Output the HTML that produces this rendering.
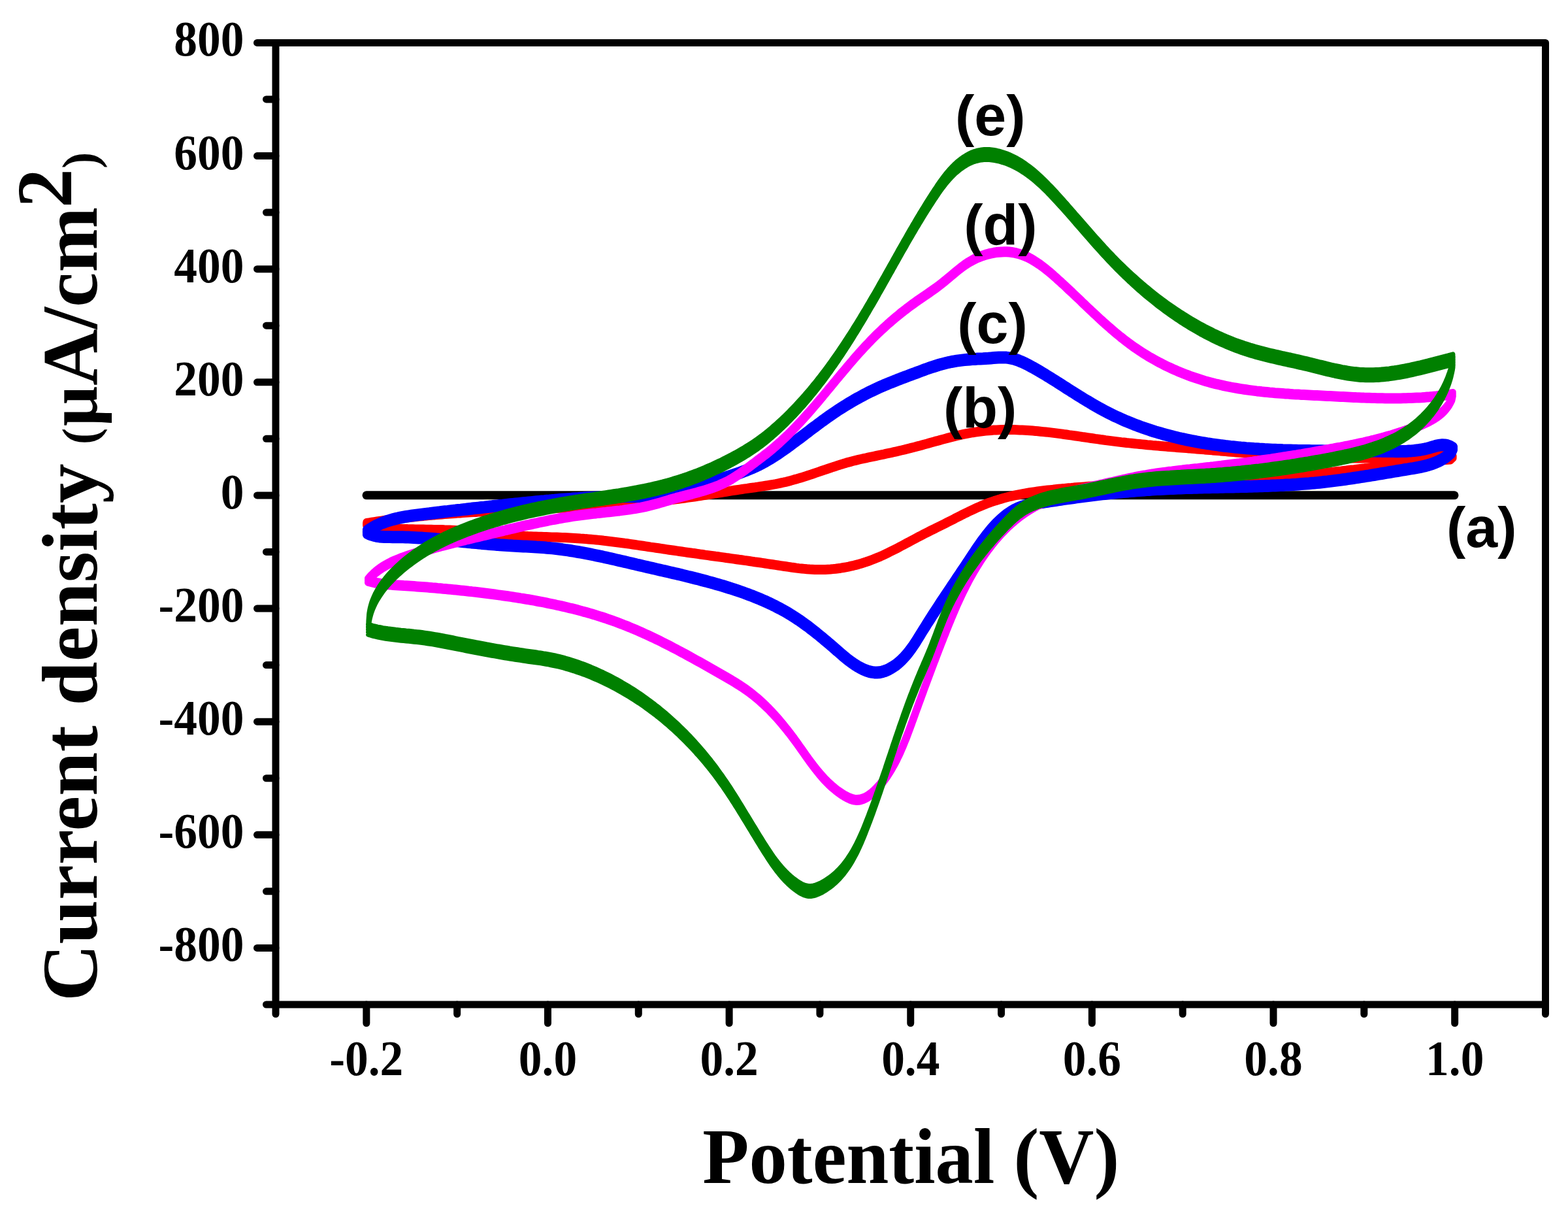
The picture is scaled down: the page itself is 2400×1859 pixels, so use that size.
<!DOCTYPE html><html><head><meta charset="utf-8"><style>html,body{margin:0;padding:0;background:#fff;}svg{display:block;}</style></head><body>
<svg width="2400" height="1859" viewBox="0 0 2400 1859">
<rect width="2400" height="1859" fill="#fff"/>
<line x1="561" y1="757.8" x2="2226" y2="757.8" stroke="#000" stroke-width="13" stroke-linecap="round"/>
<g fill="none" stroke="#ff0000" stroke-width="11" stroke-linejoin="round" stroke-linecap="round">
<path id="pff0000" d="M560.9,800.5 564.9,799.9 568.8,799.3 572.8,798.6 576.8,798.0 580.7,797.5 584.7,796.9 588.7,796.3 592.6,795.8 596.6,795.2 600.6,794.7 604.6,794.2 608.6,793.7 612.5,793.2 616.5,792.8 620.5,792.3 624.5,791.8 628.5,791.4 632.5,791.0 636.5,790.6 640.4,790.1 644.4,789.7 648.4,789.4 652.4,789.0 656.4,788.6 660.4,788.3 664.4,787.9 668.4,787.6 672.4,787.2 676.4,786.9 680.4,786.6 684.4,786.3 688.4,786.0 692.4,785.7 696.4,785.4 700.4,785.1 704.4,784.9 708.4,784.6 712.4,784.3 716.4,784.1 720.4,783.8 724.4,783.6 728.4,783.4 732.4,783.1 736.4,782.9 740.4,782.7 744.4,782.5 748.4,782.3 752.4,782.0 756.4,781.8 760.4,781.6 764.4,781.4 768.5,781.3 772.5,781.1 776.5,780.9 780.5,780.7 784.5,780.5 788.5,780.3 792.5,780.1 796.5,780.0 800.5,779.8 804.5,779.6 808.5,779.4 812.6,779.3 816.6,779.1 820.6,778.9 824.6,778.8 828.6,778.6 832.6,778.4 836.6,778.2 840.6,778.1 844.6,777.9 848.6,777.7 852.6,777.5 856.7,777.3 860.7,777.2 864.7,777.0 868.7,776.8 872.7,776.6 876.7,776.4 880.7,776.2 884.7,776.0 888.7,775.8 892.7,775.6 896.7,775.4 900.7,775.2 904.7,774.9 908.7,774.7 912.7,774.5 916.7,774.2 920.7,774.0 924.7,773.7 928.8,773.5 932.8,773.2 936.8,773.0 940.7,772.7 944.7,772.4 948.7,772.1 952.7,771.8 956.7,771.5 960.7,771.2 964.7,770.9 968.7,770.6 972.7,770.2 976.7,769.9 980.7,769.5 984.7,769.2 988.7,768.8 992.7,768.4 996.7,768.0 1000.6,767.6 1004.6,767.2 1008.6,766.8 1012.6,766.4 1016.6,765.9 1020.6,765.5 1024.5,765.0 1028.5,764.5 1032.5,764.1 1036.5,763.6 1040.4,763.0 1044.4,762.5 1048.4,762.0 1052.4,761.4 1056.3,760.9 1060.3,760.3 1064.3,759.7 1068.2,759.1 1072.2,758.5 1076.2,757.9 1080.1,757.3 1084.1,756.6 1088.1,756.0 1092.0,755.4 1096.0,754.7 1100.0,754.1 1103.9,753.5 1107.9,752.8 1111.8,752.2 1115.8,751.6 1119.8,750.9 1123.7,750.3 1127.7,749.7 1131.7,749.1 1135.7,748.5 1139.6,747.9 1143.6,747.4 1147.6,746.8 1151.5,746.2 1155.5,745.7 1159.5,745.1 1163.5,744.5 1167.4,743.9 1171.4,743.3 1175.3,742.7 1179.3,742.0 1183.2,741.3 1187.2,740.6 1191.1,739.8 1195.0,739.0 1198.9,738.2 1202.8,737.3 1206.7,736.3 1210.6,735.3 1214.4,734.2 1218.3,733.2 1222.1,732.0 1226.0,730.9 1229.8,729.7 1233.6,728.5 1237.4,727.2 1241.3,726.0 1245.1,724.7 1248.9,723.4 1252.7,722.1 1256.5,720.8 1260.3,719.5 1264.1,718.3 1267.8,717.0 1271.6,715.7 1275.4,714.4 1279.2,713.2 1283.0,711.9 1286.8,710.7 1290.7,709.6 1294.5,708.4 1298.3,707.3 1302.2,706.3 1306.0,705.3 1309.9,704.3 1313.7,703.4 1317.6,702.5 1321.5,701.6 1325.4,700.8 1329.3,699.9 1333.2,699.1 1337.1,698.3 1341.0,697.5 1344.9,696.7 1348.7,695.9 1352.6,695.1 1356.5,694.2 1360.4,693.4 1364.3,692.6 1368.2,691.7 1372.1,690.8 1376.0,689.9 1379.8,689.0 1383.7,688.1 1387.6,687.1 1391.5,686.2 1395.4,685.2 1399.2,684.2 1403.1,683.2 1407.0,682.2 1410.9,681.1 1414.7,680.0 1418.6,679.0 1422.5,677.9 1426.4,676.8 1430.3,675.7 1434.2,674.7 1438.1,673.6 1442.0,672.5 1445.9,671.5 1449.9,670.4 1453.8,669.4 1457.7,668.4 1461.7,667.4 1465.6,666.5 1469.5,665.6 1473.5,664.7 1477.4,663.9 1481.4,663.1 1485.3,662.4 1489.3,661.7 1493.3,661.1 1497.2,660.5 1501.2,660.0 1505.1,659.5 1509.1,659.1 1513.1,658.7 1517.1,658.4 1521.0,658.1 1525.0,657.9 1529.0,657.7 1532.9,657.6 1536.9,657.5 1540.9,657.5 1544.9,657.5 1548.9,657.5 1552.8,657.6 1556.8,657.7 1560.8,657.9 1564.8,658.1 1568.8,658.3 1572.8,658.5 1576.7,658.8 1580.7,659.1 1584.7,659.4 1588.7,659.8 1592.7,660.2 1596.7,660.6 1600.7,661.0 1604.7,661.4 1608.7,661.9 1612.7,662.4 1616.7,662.9 1620.6,663.4 1624.6,663.9 1628.6,664.5 1632.6,665.0 1636.6,665.6 1640.6,666.1 1644.6,666.7 1648.6,667.3 1652.6,667.9 1656.6,668.5 1660.6,669.0 1664.6,669.6 1668.6,670.2 1672.5,670.8 1676.5,671.4 1680.5,671.9 1684.5,672.5 1688.5,673.0 1692.5,673.6 1696.5,674.1 1700.5,674.6 1704.4,675.1 1708.4,675.6 1712.4,676.1 1716.4,676.6 1720.4,677.0 1724.4,677.5 1728.3,677.9 1732.3,678.3 1736.3,678.7 1740.3,679.1 1744.3,679.5 1748.2,679.9 1752.2,680.3 1756.2,680.7 1760.2,681.0 1764.2,681.4 1768.1,681.7 1772.1,682.1 1776.1,682.4 1780.1,682.7 1784.0,683.1 1788.0,683.4 1792.0,683.7 1796.0,684.0 1800.0,684.4 1804.0,684.7 1807.9,685.0 1811.9,685.3 1815.9,685.6 1819.9,685.9 1823.9,686.3 1827.9,686.6 1831.9,686.9 1835.8,687.2 1839.8,687.5 1843.8,687.9 1847.8,688.2 1851.8,688.5 1855.8,688.9 1859.8,689.2 1863.8,689.5 1867.8,689.9 1871.8,690.2 1875.8,690.6 1879.8,690.9 1883.8,691.2 1887.8,691.6 1891.8,691.9 1895.8,692.2 1899.8,692.5 1903.8,692.9 1907.8,693.2 1911.8,693.5 1915.8,693.8 1919.8,694.1 1923.8,694.4 1927.8,694.7 1931.8,695.0 1935.8,695.3 1939.9,695.6 1943.9,695.9 1947.9,696.2 1951.9,696.5 1955.9,696.7 1959.9,697.0 1963.9,697.2 1967.9,697.5 1971.9,697.7 1975.9,698.0 1979.9,698.2 1983.9,698.4 1987.9,698.6 1991.9,698.8 1995.9,699.0 1999.9,699.2 2003.9,699.4 2007.9,699.5 2011.9,699.7 2016.0,699.9 2020.0,700.0 2024.0,700.1 2028.0,700.3 2032.0,700.4 2036.0,700.5 2040.0,700.6 2044.0,700.7 2048.0,700.7 2052.0,700.8 2056.0,700.8 2060.0,700.9 2064.0,700.9 2068.0,700.9 2072.1,701.0 2076.1,701.0 2080.1,700.9 2084.1,700.9 2088.1,700.9 2092.1,700.8 2096.1,700.8 2100.1,700.7 2104.1,700.6 2108.1,700.5 2112.1,700.4 2116.2,700.3 2120.2,700.1 2124.2,700.0 2128.2,699.8 2132.2,699.7 2136.2,699.5 2140.2,699.3 2144.2,699.0 2148.3,698.8 2152.3,698.6 2156.3,698.3 2160.3,698.0 2164.3,697.8 2168.3,697.5 2172.3,697.3 2176.4,697.1 2180.4,696.9 2184.4,696.8 2188.4,696.7 2192.3,696.7 2196.3,696.7 2200.3,696.8 2204.3,697.0 2208.3,697.3 2212.2,697.6 2216.2,698.1 2220.1,698.7 2224.0,699.3 2220.1,702.9 2216.1,703.2 2212.1,703.5 2208.1,703.9 2204.1,704.2 2200.1,704.6 2196.1,704.9 2192.1,705.3 2188.1,705.7 2184.1,706.1 2180.1,706.4 2176.1,706.8 2172.1,707.2 2168.1,707.7 2164.1,708.1 2160.1,708.5 2156.1,708.9 2152.1,709.3 2148.1,709.8 2144.1,710.2 2140.2,710.7 2136.2,711.1 2132.2,711.6 2128.2,712.0 2124.2,712.5 2120.2,712.9 2116.2,713.4 2112.2,713.9 2108.2,714.3 2104.3,714.8 2100.3,715.3 2096.3,715.7 2092.3,716.2 2088.3,716.7 2084.3,717.1 2080.3,717.6 2076.3,718.1 2072.3,718.6 2068.4,719.0 2064.4,719.5 2060.4,720.0 2056.4,720.4 2052.4,720.9 2048.4,721.3 2044.4,721.8 2040.4,722.3 2036.4,722.7 2032.5,723.2 2028.5,723.6 2024.5,724.0 2020.5,724.5 2016.5,724.9 2012.5,725.3 2008.5,725.7 2004.5,726.2 2000.5,726.6 1996.5,727.0 1992.5,727.4 1988.5,727.8 1984.5,728.2 1980.6,728.5 1976.6,728.9 1972.6,729.3 1968.6,729.6 1964.6,730.0 1960.6,730.3 1956.6,730.6 1952.6,730.9 1948.6,731.3 1944.6,731.6 1940.6,731.8 1936.6,732.1 1932.6,732.4 1928.5,732.7 1924.5,732.9 1920.5,733.2 1916.5,733.4 1912.5,733.7 1908.5,733.9 1904.5,734.1 1900.5,734.3 1896.5,734.5 1892.5,734.7 1888.5,734.9 1884.5,735.1 1880.4,735.3 1876.4,735.5 1872.4,735.7 1868.4,735.8 1864.4,736.0 1860.4,736.2 1856.4,736.3 1852.4,736.5 1848.3,736.6 1844.3,736.8 1840.3,736.9 1836.3,737.1 1832.3,737.2 1828.3,737.3 1824.2,737.5 1820.2,737.6 1816.2,737.7 1812.2,737.9 1808.2,738.0 1804.2,738.2 1800.1,738.3 1796.1,738.4 1792.1,738.6 1788.1,738.7 1784.1,738.8 1780.1,739.0 1776.0,739.1 1772.0,739.2 1768.0,739.4 1764.0,739.5 1760.0,739.7 1756.0,739.8 1751.9,740.0 1747.9,740.1 1743.9,740.3 1739.9,740.4 1735.9,740.6 1731.9,740.8 1727.8,741.0 1723.8,741.1 1719.8,741.3 1715.8,741.5 1711.8,741.7 1707.8,741.9 1703.8,742.1 1699.8,742.3 1695.7,742.6 1691.7,742.8 1687.7,743.0 1683.7,743.3 1679.7,743.5 1675.7,743.8 1671.7,744.0 1667.7,744.3 1663.7,744.6 1659.6,744.9 1655.6,745.2 1651.6,745.5 1647.6,745.8 1643.6,746.1 1639.6,746.5 1635.6,746.8 1631.6,747.2 1627.6,747.6 1623.6,747.9 1619.6,748.3 1615.6,748.7 1611.6,749.2 1607.6,749.6 1603.6,750.0 1599.6,750.5 1595.6,751.0 1591.7,751.5 1587.7,752.0 1583.7,752.6 1579.7,753.2 1575.8,753.8 1571.8,754.5 1567.9,755.1 1563.9,755.9 1560.0,756.6 1556.1,757.4 1552.2,758.2 1548.3,759.1 1544.4,760.0 1540.6,761.0 1536.7,762.0 1532.9,763.1 1529.1,764.2 1525.3,765.4 1521.5,766.6 1517.7,767.9 1513.9,769.2 1510.2,770.6 1506.5,772.1 1502.8,773.6 1499.1,775.2 1495.4,776.8 1491.8,778.5 1488.1,780.2 1484.5,781.9 1480.9,783.7 1477.3,785.4 1473.6,787.2 1470.0,789.1 1466.4,790.9 1462.8,792.7 1459.3,794.6 1455.7,796.4 1452.1,798.2 1448.5,800.0 1444.9,801.8 1441.3,803.6 1437.7,805.4 1434.1,807.2 1430.5,809.0 1426.9,810.7 1423.3,812.5 1419.7,814.4 1416.1,816.2 1412.5,818.0 1409.0,819.8 1405.4,821.7 1401.8,823.6 1398.3,825.5 1394.7,827.4 1391.1,829.3 1387.6,831.2 1384.0,833.1 1380.4,835.0 1376.9,836.9 1373.3,838.8 1369.7,840.6 1366.1,842.4 1362.5,844.2 1358.9,846.0 1355.3,847.7 1351.6,849.4 1348.0,851.1 1344.3,852.7 1340.6,854.2 1336.9,855.7 1333.1,857.1 1329.4,858.5 1325.6,859.8 1321.8,861.0 1318.0,862.2 1314.2,863.3 1310.3,864.3 1306.5,865.3 1302.6,866.2 1298.7,867.1 1294.8,867.8 1290.9,868.5 1286.9,869.2 1283.0,869.7 1279.1,870.2 1275.1,870.6 1271.1,871.0 1267.1,871.2 1263.2,871.4 1259.2,871.6 1255.2,871.6 1251.2,871.6 1247.2,871.5 1243.2,871.3 1239.2,871.1 1235.2,870.8 1231.1,870.4 1227.1,870.0 1223.1,869.6 1219.1,869.1 1215.1,868.5 1211.1,868.0 1207.1,867.4 1203.1,866.8 1199.1,866.2 1195.0,865.6 1191.0,865.0 1187.0,864.4 1183.0,863.8 1179.0,863.2 1175.0,862.6 1171.0,862.0 1167.1,861.4 1163.1,860.8 1159.1,860.2 1155.1,859.7 1151.1,859.1 1147.1,858.5 1143.1,857.9 1139.1,857.4 1135.2,856.8 1131.2,856.3 1127.2,855.7 1123.2,855.1 1119.3,854.6 1115.3,854.0 1111.3,853.5 1107.3,852.9 1103.4,852.4 1099.4,851.8 1095.4,851.3 1091.4,850.7 1087.5,850.2 1083.5,849.6 1079.5,849.1 1075.6,848.5 1071.6,848.0 1067.6,847.4 1063.7,846.8 1059.7,846.3 1055.7,845.7 1051.8,845.2 1047.8,844.6 1043.8,844.0 1039.9,843.5 1035.9,842.9 1031.9,842.3 1028.0,841.8 1024.0,841.2 1020.0,840.6 1016.1,840.0 1012.1,839.4 1008.1,838.8 1004.1,838.2 1000.2,837.6 996.2,837.1 992.2,836.5 988.2,835.9 984.3,835.3 980.3,834.7 976.3,834.1 972.3,833.5 968.4,833.0 964.4,832.4 960.4,831.8 956.4,831.3 952.4,830.7 948.5,830.2 944.5,829.7 940.5,829.2 936.5,828.7 932.5,828.2 928.5,827.7 924.5,827.3 920.5,826.8 916.5,826.4 912.5,826.0 908.6,825.6 904.6,825.2 900.6,824.9 896.6,824.6 892.5,824.2 888.5,824.0 884.5,823.7 880.5,823.4 876.5,823.2 872.5,823.0 868.5,822.8 864.5,822.6 860.5,822.5 856.5,822.3 852.4,822.1 848.4,822.0 844.4,821.9 840.4,821.7 836.4,821.6 832.4,821.5 828.4,821.3 824.3,821.2 820.3,821.0 816.3,820.9 812.3,820.7 808.3,820.6 804.3,820.4 800.3,820.2 796.3,820.0 792.3,819.8 788.3,819.5 784.3,819.3 780.3,819.0 776.3,818.7 772.3,818.4 768.3,818.0 764.3,817.7 760.3,817.3 756.3,816.9 752.3,816.5 748.3,816.1 744.3,815.7 740.3,815.3 736.3,814.9 732.4,814.5 728.4,814.2 724.4,813.8 720.4,813.4 716.4,813.0 712.4,812.7 708.4,812.4 704.4,812.1 700.4,811.8 696.3,811.5 692.3,811.3 688.3,811.1 684.3,810.9 680.3,810.8 676.2,810.6 672.2,810.5 668.2,810.4 664.1,810.4 660.1,810.3 656.1,810.2 652.0,810.2 648.0,810.1 644.0,810.1 639.9,810.0 635.9,809.9 631.9,809.8 627.9,809.7 623.9,809.6 619.9,809.4 615.9,809.3 611.9,809.1 607.9,808.8 603.9,808.6 599.9,808.3 595.9,807.9 592.0,807.5 588.0,807.1 584.1,806.6 580.2,806.0 576.2,805.4 572.3,804.7 568.5,803.9 564.6,803.1 560.7,802.1"/>
<use href="#pff0000" transform="translate(0,-2.00)"/>
<use href="#pff0000" transform="translate(0,2.00)"/>
</g>
<g fill="none" stroke="#0000ff" stroke-width="14" stroke-linejoin="round" stroke-linecap="round">
<path id="p0000ff" d="M561.9,812.8 565.1,810.5 568.5,808.4 571.9,806.4 575.4,804.5 579.0,802.8 582.7,801.1 586.5,799.6 590.3,798.2 594.1,796.9 598.0,795.7 601.9,794.6 605.8,793.6 609.7,792.7 613.7,791.9 617.6,791.1 621.5,790.4 625.5,789.8 629.4,789.2 633.4,788.6 637.3,788.1 641.3,787.6 645.3,787.1 649.2,786.6 653.2,786.1 657.2,785.7 661.2,785.2 665.1,784.7 669.1,784.2 673.1,783.8 677.1,783.3 681.1,782.8 685.0,782.4 689.0,781.9 693.0,781.4 697.0,781.0 701.0,780.5 705.0,780.1 709.0,779.6 713.0,779.2 717.0,778.7 721.0,778.3 725.0,777.8 729.0,777.4 733.0,777.0 737.0,776.5 741.0,776.1 745.0,775.6 749.0,775.2 753.0,774.8 757.0,774.3 761.0,773.9 765.0,773.5 769.0,773.1 773.0,772.6 777.0,772.2 781.0,771.8 784.9,771.4 788.9,771.0 792.9,770.6 796.9,770.2 800.9,769.8 804.9,769.4 808.9,769.0 812.9,768.6 816.9,768.2 820.9,767.8 824.9,767.4 828.9,767.0 832.9,766.7 836.9,766.3 840.9,766.0 844.9,765.6 848.9,765.3 852.9,764.9 856.9,764.6 860.9,764.3 864.9,764.0 868.9,763.7 872.9,763.4 876.9,763.1 880.9,762.8 884.9,762.6 888.9,762.3 892.9,762.1 896.9,761.8 900.9,761.6 904.9,761.4 908.9,761.2 912.9,761.0 917.0,760.8 921.0,760.7 925.0,760.5 929.0,760.4 933.0,760.2 937.1,760.1 941.1,760.0 945.1,759.9 949.1,759.9 953.2,759.8 957.2,759.8 961.2,759.8 965.3,759.7 969.3,759.7 973.3,759.7 977.4,759.7 981.4,759.7 985.5,759.7 989.5,759.6 993.5,759.5 997.5,759.4 1001.5,759.3 1005.5,759.1 1009.5,758.8 1013.5,758.5 1017.5,758.2 1021.4,757.8 1025.4,757.3 1029.3,756.7 1033.2,756.0 1037.1,755.2 1041.0,754.4 1044.8,753.4 1048.7,752.4 1052.5,751.2 1056.3,749.9 1060.1,748.5 1063.8,747.1 1067.6,745.6 1071.4,744.1 1075.2,742.7 1079.0,741.3 1082.8,739.9 1086.6,738.6 1090.4,737.3 1094.3,736.0 1098.1,734.7 1102.0,733.5 1105.8,732.2 1109.7,731.0 1113.5,729.7 1117.3,728.5 1121.2,727.2 1125.0,725.9 1128.8,724.6 1132.5,723.3 1136.3,721.9 1140.0,720.5 1143.8,719.1 1147.5,717.6 1151.1,716.1 1154.8,714.4 1158.4,712.8 1161.9,711.1 1165.5,709.3 1169.0,707.4 1172.5,705.5 1175.9,703.5 1179.4,701.5 1182.8,699.4 1186.1,697.2 1189.5,695.1 1192.8,692.9 1196.1,690.6 1199.4,688.3 1202.7,686.0 1206.0,683.7 1209.2,681.3 1212.5,678.9 1215.7,676.5 1218.9,674.1 1222.2,671.7 1225.4,669.3 1228.6,666.9 1231.8,664.4 1235.0,662.0 1238.2,659.6 1241.4,657.1 1244.6,654.7 1247.9,652.3 1251.1,649.9 1254.3,647.5 1257.5,645.1 1260.8,642.8 1264.0,640.4 1267.3,638.1 1270.6,635.8 1273.9,633.5 1277.2,631.3 1280.5,629.0 1283.8,626.8 1287.2,624.6 1290.6,622.5 1294.0,620.4 1297.4,618.3 1300.8,616.2 1304.2,614.2 1307.7,612.2 1311.2,610.2 1314.7,608.3 1318.2,606.4 1321.7,604.5 1325.3,602.6 1328.8,600.8 1332.4,599.0 1336.0,597.3 1339.6,595.6 1343.3,593.9 1347.0,592.2 1350.6,590.6 1354.3,589.0 1358.0,587.5 1361.8,585.9 1365.5,584.4 1369.2,582.9 1373.0,581.4 1376.8,580.0 1380.5,578.5 1384.3,577.1 1388.1,575.7 1391.8,574.3 1395.6,572.9 1399.4,571.5 1403.1,570.1 1406.9,568.7 1410.7,567.3 1414.4,565.9 1418.2,564.5 1422.0,563.2 1425.7,561.9 1429.5,560.7 1433.3,559.5 1437.1,558.3 1440.9,557.2 1444.8,556.2 1448.6,555.2 1452.5,554.3 1456.4,553.5 1460.3,552.8 1464.3,552.1 1468.3,551.6 1472.2,551.1 1476.3,550.6 1480.3,550.2 1484.3,549.9 1488.4,549.6 1492.4,549.4 1496.5,549.1 1500.5,548.9 1504.6,548.7 1508.6,548.4 1512.7,548.2 1516.7,547.9 1520.7,547.6 1524.7,547.3 1528.7,547.1 1532.7,546.9 1536.6,546.9 1540.5,547.1 1544.4,547.6 1548.3,548.4 1552.2,549.3 1556.0,550.5 1559.8,551.9 1563.5,553.4 1567.2,555.1 1570.9,556.9 1574.5,558.8 1578.1,560.7 1581.7,562.6 1585.2,564.6 1588.7,566.6 1592.1,568.6 1595.6,570.7 1599.0,572.7 1602.3,574.8 1605.7,576.9 1609.1,579.0 1612.5,581.1 1615.8,583.2 1619.2,585.4 1622.6,587.5 1626.0,589.7 1629.3,591.8 1632.7,594.0 1636.1,596.1 1639.5,598.3 1642.9,600.4 1646.3,602.6 1649.7,604.7 1653.2,606.9 1656.6,609.0 1660.0,611.1 1663.5,613.2 1667.0,615.2 1670.4,617.3 1673.9,619.3 1677.4,621.3 1680.9,623.3 1684.4,625.3 1688.0,627.2 1691.5,629.1 1695.1,631.0 1698.6,632.8 1702.2,634.6 1705.8,636.3 1709.5,638.0 1713.1,639.7 1716.8,641.4 1720.4,643.0 1724.1,644.6 1727.8,646.1 1731.5,647.6 1735.2,649.1 1739.0,650.5 1742.7,651.9 1746.5,653.3 1750.3,654.6 1754.0,655.9 1757.8,657.2 1761.7,658.5 1765.5,659.7 1769.3,660.9 1773.1,662.0 1777.0,663.1 1780.8,664.2 1784.7,665.3 1788.6,666.3 1792.5,667.3 1796.4,668.3 1800.3,669.2 1804.2,670.2 1808.1,671.1 1812.0,671.9 1816.0,672.8 1819.9,673.6 1823.8,674.4 1827.8,675.1 1831.7,675.9 1835.7,676.6 1839.7,677.3 1843.6,677.9 1847.6,678.6 1851.6,679.2 1855.6,679.8 1859.6,680.4 1863.5,680.9 1867.5,681.5 1871.5,682.0 1875.5,682.5 1879.5,682.9 1883.5,683.4 1887.5,683.8 1891.5,684.2 1895.5,684.6 1899.5,685.0 1903.5,685.3 1907.5,685.7 1911.5,686.0 1915.5,686.3 1919.5,686.6 1923.5,686.8 1927.5,687.1 1931.6,687.3 1935.6,687.6 1939.6,687.8 1943.6,688.0 1947.6,688.2 1951.6,688.3 1955.6,688.5 1959.6,688.6 1963.6,688.8 1967.6,688.9 1971.6,689.0 1975.6,689.1 1979.6,689.2 1983.7,689.3 1987.7,689.4 1991.7,689.5 1995.7,689.5 1999.7,689.6 2003.7,689.6 2007.7,689.7 2011.7,689.7 2015.7,689.8 2019.8,689.8 2023.8,689.8 2027.8,689.9 2031.8,689.9 2035.8,689.9 2039.8,689.9 2043.8,689.9 2047.9,689.9 2051.9,689.9 2055.9,690.0 2059.9,690.0 2063.9,690.0 2067.9,690.0 2072.0,690.0 2076.0,690.0 2080.0,690.0 2084.0,690.1 2088.0,690.1 2092.0,690.1 2096.1,690.1 2100.1,690.2 2104.1,690.2 2108.1,690.3 2112.1,690.3 2116.2,690.4 2120.2,690.5 2124.2,690.5 2128.2,690.6 2132.2,690.6 2136.3,690.7 2140.3,690.7 2144.3,690.6 2148.3,690.5 2152.3,690.4 2156.3,690.1 2160.3,689.9 2164.2,689.5 2168.2,689.0 2172.2,688.5 2176.1,687.8 2180.1,687.1 2184.0,686.2 2187.9,685.2 2191.9,684.0 2195.8,682.9 2199.7,681.9 2203.7,681.1 2207.6,680.7 2211.6,680.9 2215.7,681.7 2219.8,683.3 2224.0,685.8 2220.9,692.8 2217.8,695.5 2214.7,698.1 2211.4,700.4 2208.0,702.5 2204.6,704.4 2201.0,706.1 2197.4,707.7 2193.8,709.1 2190.1,710.4 2186.3,711.5 2182.5,712.6 2178.6,713.5 2174.7,714.4 2170.8,715.2 2166.9,715.9 2162.9,716.6 2158.9,717.2 2154.9,717.9 2150.9,718.5 2147.0,719.2 2143.0,719.8 2139.0,720.5 2135.0,721.2 2131.0,721.8 2127.1,722.5 2123.1,723.2 2119.1,723.8 2115.1,724.5 2111.2,725.2 2107.2,725.8 2103.2,726.5 2099.2,727.1 2095.3,727.8 2091.3,728.4 2087.3,729.1 2083.4,729.7 2079.4,730.3 2075.4,730.9 2071.5,731.5 2067.5,732.1 2063.5,732.7 2059.5,733.3 2055.6,733.8 2051.6,734.4 2047.6,734.9 2043.6,735.4 2039.7,735.9 2035.7,736.4 2031.7,736.9 2027.7,737.3 2023.7,737.8 2019.8,738.2 2015.8,738.6 2011.8,739.0 2007.8,739.3 2003.8,739.7 1999.8,740.0 1995.8,740.3 1991.8,740.6 1987.8,740.9 1983.9,741.2 1979.9,741.4 1975.9,741.7 1971.9,741.9 1967.9,742.1 1963.9,742.4 1959.9,742.6 1955.9,742.7 1951.9,742.9 1947.9,743.1 1943.8,743.3 1939.8,743.4 1935.8,743.6 1931.8,743.7 1927.8,743.8 1923.8,744.0 1919.8,744.1 1915.8,744.2 1911.8,744.3 1907.8,744.4 1903.8,744.5 1899.7,744.6 1895.7,744.7 1891.7,744.8 1887.7,744.9 1883.7,745.0 1879.7,745.1 1875.7,745.1 1871.7,745.2 1867.6,745.3 1863.6,745.4 1859.6,745.5 1855.6,745.6 1851.6,745.7 1847.6,745.8 1843.6,745.8 1839.5,745.9 1835.5,746.0 1831.5,746.2 1827.5,746.3 1823.5,746.4 1819.5,746.5 1815.4,746.6 1811.4,746.8 1807.4,746.9 1803.4,747.1 1799.4,747.2 1795.4,747.4 1791.4,747.6 1787.4,747.8 1783.3,747.9 1779.3,748.2 1775.3,748.4 1771.3,748.6 1767.3,748.8 1763.3,749.1 1759.3,749.4 1755.3,749.6 1751.3,749.9 1747.3,750.2 1743.3,750.5 1739.2,750.8 1735.2,751.2 1731.2,751.5 1727.2,751.9 1723.2,752.2 1719.3,752.6 1715.3,753.0 1711.3,753.4 1707.3,753.8 1703.3,754.2 1699.3,754.6 1695.3,755.0 1691.3,755.5 1687.3,755.9 1683.4,756.4 1679.4,756.8 1675.4,757.3 1671.4,757.8 1667.5,758.3 1663.5,758.8 1659.5,759.3 1655.6,759.8 1651.6,760.4 1647.7,760.9 1643.7,761.5 1639.8,762.0 1635.8,762.6 1631.8,763.1 1627.9,763.7 1623.9,764.3 1619.9,764.9 1615.9,765.5 1612.0,766.1 1608.0,766.7 1603.9,767.3 1599.9,767.9 1595.9,768.5 1591.8,769.1 1587.8,769.8 1583.7,770.5 1579.7,771.3 1575.8,772.2 1571.8,773.1 1568.0,774.2 1564.1,775.4 1560.4,776.8 1556.7,778.3 1553.2,780.0 1549.7,781.9 1546.3,784.0 1543.0,786.2 1539.8,788.5 1536.7,791.0 1533.6,793.6 1530.6,796.2 1527.7,799.0 1524.9,801.8 1522.1,804.7 1519.4,807.7 1516.8,810.7 1514.2,813.8 1511.7,816.9 1509.2,820.0 1506.7,823.2 1504.3,826.4 1501.9,829.7 1499.6,833.0 1497.3,836.3 1495.0,839.6 1492.7,843.0 1490.5,846.3 1488.2,849.7 1486.0,853.1 1483.8,856.4 1481.5,859.8 1479.3,863.1 1477.1,866.5 1474.9,869.8 1472.6,873.2 1470.4,876.5 1468.2,879.8 1465.9,883.2 1463.7,886.5 1461.5,889.8 1459.3,893.1 1457.0,896.4 1454.8,899.8 1452.6,903.1 1450.4,906.4 1448.2,909.7 1446.0,913.0 1443.7,916.4 1441.5,919.7 1439.3,923.0 1437.1,926.3 1434.9,929.7 1432.8,933.0 1430.6,936.4 1428.4,939.7 1426.2,943.1 1424.1,946.5 1421.9,949.9 1419.7,953.3 1417.6,956.7 1415.5,960.1 1413.3,963.5 1411.2,966.9 1409.1,970.4 1407.0,973.8 1404.8,977.3 1402.7,980.7 1400.5,984.1 1398.3,987.4 1396.0,990.8 1393.6,994.0 1391.2,997.2 1388.7,1000.4 1386.1,1003.4 1383.4,1006.4 1380.6,1009.2 1377.7,1012.0 1374.7,1014.6 1371.5,1017.2 1368.1,1019.5 1364.7,1021.7 1361.1,1023.7 1357.4,1025.5 1353.7,1026.9 1349.9,1028.0 1346.0,1028.8 1342.2,1029.1 1338.4,1028.9 1334.5,1028.4 1330.7,1027.6 1327.0,1026.4 1323.3,1025.0 1319.7,1023.3 1316.1,1021.5 1312.6,1019.5 1309.2,1017.4 1305.9,1015.2 1302.6,1012.8 1299.3,1010.4 1296.1,1007.9 1293.0,1005.3 1289.8,1002.7 1286.7,1000.0 1283.6,997.3 1280.5,994.7 1277.5,992.0 1274.4,989.3 1271.3,986.7 1268.2,984.0 1265.1,981.4 1262.0,978.8 1258.9,976.2 1255.7,973.6 1252.6,971.0 1249.5,968.5 1246.3,966.0 1243.1,963.5 1240.0,961.1 1236.8,958.6 1233.5,956.3 1230.3,953.9 1227.0,951.6 1223.8,949.3 1220.5,947.1 1217.1,944.9 1213.8,942.7 1210.4,940.6 1207.0,938.5 1203.6,936.5 1200.1,934.5 1196.6,932.6 1193.1,930.7 1189.6,928.9 1186.0,927.0 1182.4,925.3 1178.8,923.5 1175.2,921.9 1171.6,920.2 1167.9,918.6 1164.2,917.0 1160.5,915.4 1156.8,913.9 1153.1,912.4 1149.3,911.0 1145.6,909.6 1141.8,908.2 1138.0,906.8 1134.3,905.5 1130.4,904.2 1126.6,902.9 1122.8,901.6 1119.0,900.4 1115.2,899.2 1111.3,898.0 1107.5,896.8 1103.6,895.6 1099.8,894.5 1095.9,893.4 1092.0,892.3 1088.2,891.2 1084.3,890.2 1080.4,889.1 1076.5,888.1 1072.6,887.1 1068.8,886.1 1064.9,885.1 1061.0,884.1 1057.1,883.1 1053.2,882.2 1049.3,881.2 1045.4,880.3 1041.5,879.3 1037.6,878.4 1033.7,877.5 1029.8,876.6 1025.9,875.7 1022.0,874.8 1018.1,873.9 1014.1,873.0 1010.2,872.1 1006.3,871.2 1002.4,870.3 998.5,869.4 994.6,868.5 990.7,867.6 986.8,866.7 982.9,865.8 978.9,864.9 975.0,864.0 971.1,863.0 967.2,862.1 963.3,861.2 959.4,860.3 955.5,859.4 951.6,858.5 947.7,857.6 943.8,856.7 939.9,855.8 935.9,854.9 932.0,854.0 928.1,853.1 924.2,852.3 920.3,851.4 916.4,850.6 912.4,849.8 908.5,849.0 904.6,848.2 900.7,847.4 896.7,846.6 892.8,845.9 888.8,845.2 884.9,844.5 881.0,843.8 877.0,843.2 873.0,842.5 869.1,841.9 865.1,841.4 861.2,840.8 857.2,840.3 853.2,839.8 849.2,839.3 845.2,838.9 841.2,838.5 837.2,838.2 833.2,837.8 829.2,837.5 825.2,837.2 821.2,837.0 817.2,836.7 813.2,836.5 809.1,836.3 805.1,836.1 801.1,835.9 797.1,835.7 793.0,835.5 789.0,835.3 785.0,835.1 781.0,834.8 777.0,834.6 772.9,834.3 768.9,834.0 764.9,833.8 760.9,833.4 756.9,833.1 752.9,832.8 748.9,832.5 744.9,832.1 740.9,831.7 736.9,831.4 732.9,831.0 729.0,830.6 725.0,830.2 721.0,829.9 717.0,829.5 713.0,829.1 709.0,828.7 705.0,828.3 701.0,827.9 697.1,827.5 693.1,827.1 689.1,826.7 685.1,826.4 681.1,826.0 677.1,825.6 673.1,825.3 669.1,824.9 665.1,824.6 661.1,824.3 657.1,824.0 653.1,823.7 649.1,823.4 645.1,823.1 641.1,822.9 637.1,822.7 633.1,822.5 629.0,822.3 625.0,822.1 621.0,822.0 616.9,821.8 612.9,821.8 608.9,821.7 604.8,821.7 600.8,821.7 596.7,821.6 592.7,821.6 588.7,821.5 584.7,821.2 580.7,820.9 576.8,820.3 573.0,819.5 569.2,818.4 565.5,817.1 561.9,815.4"/>
<use href="#p0000ff" transform="translate(0,-2.50)"/>
<use href="#p0000ff" transform="translate(0,2.50)"/>
</g>
<g fill="none" stroke="#ff00ff" stroke-width="9.5" stroke-linejoin="round" stroke-linecap="round">
<path id="pff00ff" d="M562.7,888.0 565.4,884.8 568.2,881.8 571.2,878.9 574.2,876.2 577.3,873.6 580.5,871.2 583.8,869.0 587.2,866.8 590.6,864.8 594.1,862.9 597.6,861.1 601.2,859.4 604.9,857.8 608.6,856.3 612.3,854.8 616.0,853.5 619.8,852.1 623.6,850.8 627.4,849.5 631.2,848.3 635.0,847.1 638.8,845.9 642.7,844.7 646.5,843.5 650.4,842.4 654.2,841.3 658.1,840.1 661.9,839.1 665.8,838.0 669.6,836.9 673.5,835.9 677.4,834.8 681.3,833.8 685.1,832.8 689.0,831.8 692.9,830.8 696.8,829.8 700.7,828.8 704.6,827.9 708.5,826.9 712.4,826.0 716.3,825.0 720.2,824.1 724.1,823.1 728.0,822.2 731.9,821.3 735.8,820.3 739.7,819.4 743.6,818.5 747.5,817.6 751.4,816.6 755.3,815.7 759.2,814.8 763.1,813.8 767.0,812.9 770.9,812.0 774.7,811.0 778.6,810.1 782.5,809.2 786.4,808.3 790.3,807.4 794.2,806.4 798.1,805.5 802.0,804.6 806.0,803.7 809.9,802.9 813.8,802.0 817.7,801.1 821.6,800.3 825.5,799.4 829.4,798.6 833.3,797.8 837.3,797.0 841.2,796.2 845.1,795.4 849.1,794.7 853.0,794.0 856.9,793.2 860.9,792.5 864.8,791.9 868.8,791.2 872.8,790.6 876.7,789.9 880.7,789.3 884.7,788.8 888.7,788.2 892.7,787.7 896.6,787.2 900.6,786.7 904.6,786.2 908.6,785.8 912.7,785.4 916.7,784.9 920.7,784.5 924.7,784.1 928.7,783.6 932.7,783.2 936.7,782.8 940.7,782.3 944.7,781.8 948.7,781.4 952.7,780.9 956.7,780.3 960.6,779.8 964.6,779.2 968.5,778.6 972.5,778.0 976.4,777.3 980.4,776.6 984.3,775.8 988.2,775.0 992.1,774.1 995.9,773.2 999.8,772.2 1003.6,771.2 1007.5,770.1 1011.3,769.0 1015.1,767.9 1018.9,766.7 1022.8,765.6 1026.6,764.4 1030.4,763.3 1034.3,762.2 1038.2,761.2 1042.1,760.1 1046.0,759.1 1049.9,758.1 1053.9,757.1 1057.8,756.1 1061.7,755.0 1065.6,754.0 1069.5,752.9 1073.4,751.8 1077.2,750.7 1081.1,749.5 1084.9,748.3 1088.7,747.0 1092.4,745.7 1096.2,744.3 1099.9,742.8 1103.5,741.2 1107.1,739.6 1110.7,737.9 1114.2,736.1 1117.7,734.1 1121.1,732.1 1124.4,730.0 1127.8,727.8 1131.1,725.6 1134.3,723.3 1137.6,721.0 1140.8,718.6 1144.0,716.2 1147.3,713.8 1150.5,711.4 1153.7,709.0 1156.9,706.6 1160.1,704.1 1163.4,701.7 1166.6,699.3 1169.7,696.8 1172.9,694.4 1176.1,691.9 1179.2,689.3 1182.3,686.8 1185.3,684.2 1188.3,681.6 1191.3,678.9 1194.3,676.3 1197.2,673.6 1200.2,670.8 1203.1,668.1 1205.9,665.3 1208.8,662.5 1211.6,659.7 1214.4,656.8 1217.2,653.9 1219.9,651.1 1222.7,648.1 1225.4,645.2 1228.1,642.3 1230.8,639.3 1233.5,636.3 1236.2,633.3 1238.8,630.3 1241.4,627.3 1244.1,624.3 1246.7,621.2 1249.3,618.2 1251.9,615.1 1254.5,612.1 1257.1,609.0 1259.6,605.9 1262.2,602.8 1264.8,599.7 1267.3,596.6 1269.9,593.5 1272.5,590.4 1275.0,587.3 1277.6,584.2 1280.1,581.1 1282.7,578.0 1285.3,574.9 1287.8,571.8 1290.4,568.8 1293.0,565.7 1295.6,562.6 1298.2,559.6 1300.8,556.5 1303.4,553.5 1306.0,550.4 1308.6,547.4 1311.3,544.4 1313.9,541.4 1316.6,538.4 1319.3,535.5 1322.0,532.5 1324.7,529.6 1327.5,526.7 1330.2,523.8 1333.0,520.9 1335.8,518.0 1338.6,515.2 1341.4,512.4 1344.3,509.6 1347.2,506.8 1350.1,504.1 1353.0,501.4 1356.0,498.7 1358.9,496.0 1361.9,493.4 1364.9,490.8 1368.0,488.2 1371.0,485.6 1374.1,483.1 1377.2,480.5 1380.3,478.0 1383.5,475.6 1386.6,473.1 1389.8,470.7 1393.0,468.3 1396.3,465.9 1399.5,463.6 1402.8,461.2 1406.1,458.9 1409.4,456.6 1412.7,454.3 1416.0,452.1 1419.3,449.8 1422.7,447.5 1426.0,445.2 1429.2,442.9 1432.5,440.6 1435.7,438.2 1438.9,435.8 1442.1,433.3 1445.2,430.8 1448.3,428.3 1451.4,425.7 1454.5,423.1 1457.5,420.5 1460.6,418.0 1463.7,415.4 1466.8,412.9 1469.9,410.4 1473.1,408.0 1476.3,405.7 1479.6,403.4 1483.0,401.3 1486.5,399.2 1490.1,397.3 1493.7,395.5 1497.4,393.8 1501.2,392.3 1505.1,390.9 1509.0,389.6 1512.9,388.5 1516.9,387.6 1520.9,386.8 1524.9,386.1 1528.9,385.7 1532.9,385.4 1536.9,385.3 1540.8,385.3 1544.8,385.6 1548.7,386.0 1552.5,386.7 1556.3,387.5 1560.0,388.5 1563.7,389.7 1567.3,391.1 1570.9,392.6 1574.4,394.3 1577.9,396.1 1581.3,398.1 1584.7,400.2 1588.1,402.4 1591.4,404.6 1594.6,407.0 1597.9,409.5 1601.1,412.0 1604.3,414.6 1607.4,417.2 1610.6,419.9 1613.7,422.6 1616.7,425.4 1619.8,428.1 1622.8,430.9 1625.9,433.6 1628.9,436.4 1631.9,439.2 1634.8,442.0 1637.8,444.8 1640.8,447.5 1643.7,450.3 1646.6,453.1 1649.6,455.9 1652.5,458.7 1655.4,461.5 1658.3,464.3 1661.2,467.0 1664.1,469.8 1667.0,472.6 1669.9,475.3 1672.8,478.1 1675.8,480.8 1678.7,483.5 1681.6,486.2 1684.5,488.9 1687.5,491.6 1690.4,494.3 1693.4,496.9 1696.4,499.5 1699.3,502.1 1702.3,504.7 1705.4,507.3 1708.4,509.9 1711.5,512.4 1714.5,514.9 1717.6,517.3 1720.7,519.8 1723.9,522.2 1727.0,524.6 1730.2,526.9 1733.5,529.3 1736.7,531.6 1740.0,533.8 1743.3,536.1 1746.6,538.2 1750.0,540.4 1753.4,542.5 1756.8,544.6 1760.3,546.7 1763.8,548.7 1767.3,550.6 1770.8,552.6 1774.3,554.5 1777.9,556.3 1781.5,558.2 1785.1,560.0 1788.8,561.7 1792.4,563.4 1796.1,565.1 1799.8,566.7 1803.5,568.3 1807.3,569.9 1811.0,571.4 1814.8,572.9 1818.5,574.3 1822.3,575.7 1826.1,577.0 1829.9,578.3 1833.8,579.6 1837.6,580.8 1841.4,582.0 1845.3,583.2 1849.2,584.3 1853.0,585.3 1856.9,586.3 1860.8,587.3 1864.7,588.2 1868.6,589.1 1872.5,590.0 1876.4,590.8 1880.3,591.6 1884.2,592.4 1888.1,593.1 1892.0,593.8 1896.0,594.5 1899.9,595.1 1903.9,595.7 1907.8,596.3 1911.8,596.9 1915.7,597.4 1919.7,597.9 1923.7,598.4 1927.6,598.8 1931.6,599.3 1935.6,599.7 1939.6,600.1 1943.6,600.5 1947.6,600.8 1951.6,601.2 1955.6,601.5 1959.6,601.8 1963.6,602.1 1967.6,602.4 1971.6,602.6 1975.6,602.9 1979.6,603.2 1983.6,603.4 1987.6,603.6 1991.6,603.9 1995.7,604.1 1999.7,604.3 2003.7,604.5 2007.7,604.7 2011.7,604.9 2015.7,605.1 2019.8,605.3 2023.8,605.5 2027.8,605.7 2031.8,605.9 2035.8,606.1 2039.8,606.3 2043.9,606.5 2047.9,606.7 2051.9,606.9 2055.9,607.1 2059.9,607.3 2063.9,607.5 2067.9,607.7 2071.9,607.9 2076.0,608.1 2080.0,608.2 2084.0,608.4 2088.0,608.6 2092.0,608.7 2096.0,608.8 2100.0,609.0 2104.0,609.1 2108.0,609.2 2112.0,609.3 2116.0,609.3 2120.0,609.4 2124.0,609.4 2128.0,609.5 2132.0,609.5 2136.0,609.5 2140.0,609.4 2144.0,609.4 2148.0,609.3 2152.0,609.2 2156.0,609.1 2160.0,609.0 2164.0,608.8 2168.0,608.6 2172.0,608.4 2176.0,608.2 2180.0,607.9 2184.0,607.6 2188.0,607.3 2192.0,606.9 2196.0,606.6 2200.0,606.1 2204.0,605.7 2208.0,605.2 2212.0,604.7 2216.0,604.2 2220.0,603.6 2224.0,603.0 2222.6,609.9 2220.7,613.7 2218.7,617.3 2216.5,620.7 2214.0,623.9 2211.4,626.9 2208.7,629.7 2205.7,632.3 2202.7,634.7 2199.5,637.1 2196.2,639.2 2192.8,641.3 2189.3,643.2 2185.8,645.0 2182.2,646.8 2178.5,648.5 2174.8,650.1 2171.0,651.6 2167.3,653.1 2163.5,654.6 2159.8,656.0 2156.0,657.4 2152.2,658.7 2148.4,660.1 2144.6,661.4 2140.8,662.6 2136.9,663.8 2133.1,665.0 2129.3,666.2 2125.4,667.3 2121.6,668.4 2117.7,669.5 2113.8,670.6 2109.9,671.6 2106.1,672.6 2102.2,673.6 2098.3,674.5 2094.4,675.5 2090.5,676.4 2086.6,677.3 2082.6,678.1 2078.7,679.0 2074.8,679.8 2070.9,680.7 2067.0,681.5 2063.0,682.3 2059.1,683.0 2055.1,683.8 2051.2,684.6 2047.3,685.3 2043.3,686.0 2039.4,686.8 2035.4,687.5 2031.5,688.2 2027.5,688.9 2023.6,689.6 2019.6,690.3 2015.7,691.0 2011.7,691.7 2007.8,692.4 2003.8,693.1 1999.9,693.7 1995.9,694.4 1992.0,695.1 1988.0,695.7 1984.1,696.4 1980.1,697.0 1976.2,697.6 1972.2,698.3 1968.3,698.9 1964.3,699.5 1960.3,700.1 1956.4,700.8 1952.4,701.4 1948.5,702.0 1944.5,702.6 1940.5,703.1 1936.6,703.7 1932.6,704.3 1928.7,704.9 1924.7,705.5 1920.7,706.0 1916.8,706.6 1912.8,707.1 1908.8,707.7 1904.8,708.2 1900.9,708.7 1896.9,709.3 1892.9,709.8 1889.0,710.3 1885.0,710.8 1881.0,711.3 1877.0,711.8 1873.0,712.3 1869.1,712.8 1865.1,713.2 1861.1,713.7 1857.1,714.2 1853.1,714.6 1849.1,715.1 1845.1,715.5 1841.1,716.0 1837.2,716.4 1833.2,716.9 1829.2,717.3 1825.2,717.7 1821.2,718.2 1817.2,718.6 1813.2,719.0 1809.2,719.5 1805.2,719.9 1801.2,720.4 1797.3,720.9 1793.3,721.4 1789.3,721.8 1785.3,722.4 1781.4,722.9 1777.4,723.4 1773.4,724.0 1769.5,724.5 1765.5,725.1 1761.6,725.8 1757.6,726.4 1753.7,727.1 1749.7,727.7 1745.8,728.5 1741.9,729.2 1738.0,730.0 1734.1,730.8 1730.2,731.6 1726.3,732.4 1722.4,733.3 1718.5,734.2 1714.6,735.1 1710.7,736.0 1706.8,736.9 1702.9,737.8 1698.9,738.7 1695.0,739.5 1691.1,740.4 1687.1,741.3 1683.2,742.2 1679.2,743.1 1675.3,744.0 1671.3,744.9 1667.4,745.8 1663.5,746.7 1659.5,747.7 1655.6,748.6 1651.7,749.6 1647.8,750.6 1643.9,751.7 1640.0,752.8 1636.1,753.9 1632.3,755.0 1628.4,756.2 1624.6,757.4 1620.8,758.7 1617.1,760.0 1613.3,761.4 1609.6,762.8 1605.9,764.3 1602.3,765.8 1598.6,767.4 1595.1,769.0 1591.5,770.8 1588.0,772.6 1584.5,774.4 1581.0,776.3 1577.6,778.3 1574.3,780.4 1571.0,782.6 1567.7,784.8 1564.5,787.1 1561.3,789.5 1558.1,792.0 1555.0,794.5 1552.0,797.1 1549.0,799.7 1546.0,802.4 1543.1,805.2 1540.2,808.0 1537.4,810.9 1534.6,813.8 1531.8,816.8 1529.1,819.8 1526.4,822.9 1523.8,826.0 1521.2,829.2 1518.7,832.3 1516.2,835.6 1513.7,838.8 1511.3,842.1 1508.9,845.4 1506.6,848.7 1504.3,852.1 1502.1,855.5 1499.9,858.9 1497.7,862.3 1495.6,865.7 1493.5,869.2 1491.5,872.6 1489.5,876.1 1487.5,879.6 1485.6,883.1 1483.7,886.6 1481.8,890.2 1480.0,893.7 1478.2,897.3 1476.4,900.8 1474.6,904.4 1472.9,908.0 1471.2,911.6 1469.5,915.2 1467.9,918.8 1466.2,922.4 1464.6,926.1 1463.0,929.7 1461.5,933.4 1459.9,937.0 1458.4,940.7 1456.8,944.4 1455.3,948.1 1453.8,951.8 1452.3,955.4 1450.8,959.1 1449.3,962.8 1447.9,966.6 1446.4,970.3 1444.9,974.0 1443.5,977.7 1442.0,981.4 1440.6,985.2 1439.1,988.9 1437.7,992.6 1436.2,996.4 1434.8,1000.1 1433.4,1003.8 1432.0,1007.6 1430.5,1011.3 1429.1,1015.1 1427.7,1018.8 1426.3,1022.6 1424.9,1026.4 1423.5,1030.1 1422.1,1033.9 1420.7,1037.6 1419.3,1041.4 1417.9,1045.2 1416.5,1048.9 1415.1,1052.7 1413.7,1056.5 1412.3,1060.3 1411.0,1064.0 1409.6,1067.8 1408.2,1071.6 1406.8,1075.4 1405.5,1079.1 1404.1,1082.9 1402.7,1086.7 1401.3,1090.5 1400.0,1094.2 1398.6,1098.0 1397.2,1101.8 1395.9,1105.6 1394.5,1109.3 1393.1,1113.1 1391.7,1116.9 1390.3,1120.6 1388.9,1124.4 1387.4,1128.1 1385.9,1131.8 1384.4,1135.6 1382.9,1139.3 1381.3,1142.9 1379.7,1146.6 1378.1,1150.3 1376.4,1153.9 1374.6,1157.5 1372.9,1161.1 1371.0,1164.7 1369.1,1168.2 1367.1,1171.8 1365.1,1175.3 1363.0,1178.7 1360.8,1182.2 1358.6,1185.6 1356.2,1188.9 1353.8,1192.3 1351.3,1195.6 1348.7,1198.9 1346.1,1202.1 1343.3,1205.2 1340.4,1208.3 1337.5,1211.2 1334.5,1213.9 1331.3,1216.4 1328.2,1218.6 1324.9,1220.5 1321.6,1222.0 1318.2,1223.1 1314.8,1223.8 1311.3,1224.0 1307.7,1223.6 1304.1,1222.8 1300.5,1221.5 1296.9,1219.8 1293.3,1217.9 1289.8,1215.8 1286.4,1213.5 1283.1,1211.2 1279.9,1208.8 1276.8,1206.2 1273.7,1203.6 1270.7,1200.9 1267.8,1198.2 1265.0,1195.4 1262.2,1192.5 1259.5,1189.5 1256.8,1186.5 1254.2,1183.4 1251.6,1180.3 1249.0,1177.1 1246.5,1173.9 1244.1,1170.7 1241.6,1167.4 1239.2,1164.2 1236.8,1160.8 1234.4,1157.5 1232.1,1154.2 1229.7,1150.8 1227.4,1147.5 1225.0,1144.2 1222.6,1140.8 1220.3,1137.5 1217.9,1134.2 1215.5,1130.9 1213.0,1127.6 1210.6,1124.4 1208.1,1121.2 1205.6,1118.0 1203.1,1114.8 1200.6,1111.7 1198.0,1108.6 1195.4,1105.5 1192.8,1102.4 1190.2,1099.4 1187.5,1096.4 1184.8,1093.5 1182.1,1090.6 1179.4,1087.7 1176.6,1084.8 1173.8,1082.0 1170.9,1079.3 1168.0,1076.5 1165.1,1073.9 1162.2,1071.2 1159.2,1068.6 1156.1,1066.1 1153.1,1063.6 1150.0,1061.1 1146.8,1058.7 1143.6,1056.4 1140.4,1054.1 1137.1,1051.8 1133.8,1049.6 1130.4,1047.5 1127.0,1045.4 1123.6,1043.3 1120.2,1041.2 1116.7,1039.2 1113.3,1037.2 1109.8,1035.2 1106.3,1033.2 1102.8,1031.2 1099.3,1029.2 1095.8,1027.2 1092.3,1025.2 1088.8,1023.2 1085.3,1021.2 1081.8,1019.2 1078.3,1017.2 1074.8,1015.2 1071.3,1013.2 1067.8,1011.3 1064.2,1009.3 1060.7,1007.4 1057.2,1005.4 1053.7,1003.5 1050.1,1001.5 1046.6,999.6 1043.0,997.7 1039.5,995.8 1035.9,993.9 1032.4,992.1 1028.8,990.2 1025.2,988.3 1021.6,986.5 1018.1,984.7 1014.5,982.9 1010.9,981.1 1007.3,979.3 1003.7,977.6 1000.0,975.8 996.4,974.1 992.8,972.4 989.1,970.7 985.5,969.1 981.8,967.4 978.2,965.8 974.5,964.2 970.8,962.6 967.1,961.1 963.4,959.5 959.7,958.0 956.0,956.6 952.3,955.1 948.6,953.7 944.8,952.3 941.1,950.9 937.3,949.5 933.5,948.2 929.8,946.9 926.0,945.6 922.2,944.4 918.4,943.2 914.5,942.0 910.7,940.8 906.9,939.6 903.1,938.5 899.2,937.4 895.4,936.3 891.5,935.3 887.6,934.2 883.8,933.2 879.9,932.2 876.0,931.2 872.1,930.3 868.2,929.3 864.3,928.4 860.4,927.5 856.5,926.6 852.6,925.8 848.7,924.9 844.7,924.1 840.8,923.3 836.9,922.5 832.9,921.7 829.0,920.9 825.0,920.2 821.1,919.5 817.1,918.7 813.2,918.0 809.2,917.3 805.3,916.7 801.3,916.0 797.3,915.4 793.4,914.7 789.4,914.1 785.4,913.5 781.5,912.9 777.5,912.3 773.5,911.7 769.6,911.2 765.6,910.6 761.6,910.1 757.6,909.5 753.7,909.0 749.7,908.5 745.7,908.0 741.7,907.5 737.8,907.0 733.8,906.5 729.8,906.0 725.8,905.6 721.8,905.1 717.9,904.7 713.9,904.2 709.9,903.8 705.9,903.4 701.9,903.0 697.9,902.6 693.9,902.2 690.0,901.8 686.0,901.4 682.0,901.0 678.0,900.7 674.0,900.3 670.0,900.0 666.0,899.6 662.0,899.3 658.0,898.9 654.0,898.6 650.0,898.3 646.0,898.0 642.0,897.7 638.0,897.4 634.0,897.1 630.0,896.8 626.0,896.5 622.0,896.2 618.0,896.0 613.9,895.7 609.9,895.4 605.9,895.2 601.9,894.9 597.9,894.6 593.9,894.3 589.9,893.9 586.0,893.4 582.0,892.9 578.1,892.3 574.3,891.5 570.4,890.7 566.6,889.7 562.9,888.6"/>
<use href="#pff00ff" transform="translate(0,-3.25)"/>
<use href="#pff00ff" transform="translate(0,3.25)"/>
</g>
<g fill="none" stroke="#008000" stroke-width="7" stroke-linejoin="round" stroke-linecap="round">
<path id="p008000" d="M564.2,962.2 564.1,958.0 564.2,953.8 564.5,949.7 564.9,945.7 565.6,941.7 566.4,937.8 567.4,934.0 568.5,930.2 569.8,926.5 571.3,922.8 572.9,919.2 574.6,915.6 576.5,912.1 578.5,908.7 580.6,905.3 582.8,902.0 585.1,898.7 587.5,895.5 590.0,892.3 592.6,889.2 595.3,886.2 598.0,883.2 600.8,880.3 603.7,877.4 606.6,874.6 609.6,871.8 612.6,869.1 615.6,866.4 618.7,863.8 621.8,861.3 625.0,858.8 628.2,856.4 631.4,854.0 634.6,851.6 637.9,849.3 641.2,847.1 644.6,844.9 647.9,842.7 651.3,840.6 654.7,838.6 658.2,836.6 661.7,834.6 665.1,832.6 668.7,830.8 672.2,828.9 675.8,827.1 679.3,825.3 683.0,823.6 686.6,821.9 690.2,820.2 693.9,818.6 697.5,817.0 701.2,815.4 704.9,813.9 708.7,812.4 712.4,810.9 716.1,809.5 719.9,808.1 723.7,806.7 727.4,805.4 731.2,804.0 735.0,802.7 738.8,801.4 742.6,800.2 746.4,799.0 750.2,797.7 754.1,796.6 757.9,795.4 761.8,794.3 765.6,793.1 769.5,792.0 773.3,791.0 777.2,789.9 781.0,788.9 784.9,787.9 788.8,786.9 792.7,785.9 796.6,785.0 800.5,784.0 804.4,783.1 808.3,782.2 812.2,781.3 816.1,780.5 820.1,779.6 824.0,778.8 827.9,778.0 831.8,777.2 835.8,776.4 839.7,775.6 843.7,774.9 847.6,774.1 851.6,773.4 855.5,772.7 859.5,772.0 863.4,771.4 867.4,770.7 871.4,770.0 875.3,769.4 879.3,768.8 883.3,768.1 887.3,767.5 891.2,766.9 895.2,766.3 899.2,765.7 903.2,765.2 907.1,764.6 911.1,764.0 915.1,763.4 919.1,762.8 923.0,762.2 927.0,761.6 931.0,761.0 935.0,760.4 938.9,759.8 942.9,759.2 946.9,758.6 950.8,757.9 954.8,757.3 958.7,756.6 962.7,755.9 966.6,755.2 970.6,754.5 974.5,753.8 978.4,753.0 982.3,752.3 986.3,751.5 990.2,750.6 994.1,749.8 998.0,748.9 1001.9,748.0 1005.7,747.1 1009.6,746.1 1013.5,745.2 1017.4,744.1 1021.2,743.1 1025.0,742.0 1028.9,740.9 1032.7,739.7 1036.5,738.5 1040.3,737.3 1044.1,736.1 1047.9,734.8 1051.7,733.5 1055.5,732.1 1059.2,730.7 1063.0,729.3 1066.7,727.9 1070.4,726.4 1074.1,724.9 1077.8,723.4 1081.5,721.8 1085.2,720.2 1088.9,718.6 1092.5,716.9 1096.1,715.2 1099.8,713.5 1103.4,711.8 1107.0,710.0 1110.6,708.2 1114.1,706.3 1117.7,704.5 1121.2,702.6 1124.8,700.7 1128.3,698.7 1131.7,696.8 1135.2,694.7 1138.7,692.7 1142.1,690.6 1145.5,688.5 1148.8,686.3 1152.2,684.1 1155.5,681.9 1158.8,679.6 1162.0,677.2 1165.2,674.9 1168.4,672.4 1171.6,670.0 1174.7,667.5 1177.8,664.9 1180.8,662.4 1183.8,659.7 1186.8,657.1 1189.8,654.4 1192.8,651.7 1195.7,649.0 1198.6,646.2 1201.5,643.5 1204.3,640.7 1207.1,637.9 1209.9,635.0 1212.7,632.1 1215.5,629.3 1218.2,626.4 1220.9,623.4 1223.6,620.5 1226.3,617.5 1228.9,614.6 1231.6,611.6 1234.2,608.5 1236.8,605.5 1239.4,602.5 1241.9,599.4 1244.4,596.3 1247.0,593.2 1249.5,590.1 1251.9,587.0 1254.4,583.8 1256.8,580.7 1259.3,577.5 1261.7,574.3 1264.1,571.1 1266.5,567.9 1268.8,564.6 1271.2,561.4 1273.5,558.1 1275.8,554.8 1278.1,551.6 1280.4,548.3 1282.7,545.0 1284.9,541.6 1287.2,538.3 1289.4,535.0 1291.6,531.6 1293.8,528.3 1296.0,524.9 1298.2,521.5 1300.4,518.1 1302.5,514.8 1304.7,511.4 1306.8,507.9 1308.9,504.5 1311.1,501.1 1313.2,497.7 1315.3,494.2 1317.3,490.8 1319.4,487.4 1321.5,483.9 1323.6,480.5 1325.6,477.0 1327.6,473.5 1329.7,470.1 1331.7,466.6 1333.7,463.1 1335.8,459.6 1337.8,456.2 1339.8,452.7 1341.8,449.2 1343.8,445.7 1345.7,442.2 1347.7,438.7 1349.7,435.2 1351.7,431.8 1353.6,428.3 1355.6,424.8 1357.6,421.3 1359.5,417.8 1361.5,414.3 1363.4,410.9 1365.4,407.4 1367.3,403.9 1369.3,400.4 1371.2,396.9 1373.2,393.5 1375.1,390.0 1377.1,386.5 1379.1,383.0 1381.0,379.6 1383.0,376.1 1385.0,372.7 1387.0,369.2 1388.9,365.7 1390.9,362.3 1392.9,358.8 1394.9,355.4 1396.9,351.9 1399.0,348.5 1401.0,345.0 1403.0,341.6 1405.1,338.2 1407.1,334.7 1409.2,331.3 1411.3,327.9 1413.4,324.5 1415.5,321.0 1417.6,317.6 1419.8,314.2 1421.9,310.8 1424.1,307.4 1426.3,304.0 1428.5,300.6 1430.7,297.2 1433.0,293.9 1435.2,290.5 1437.5,287.1 1439.9,283.8 1442.3,280.5 1444.7,277.3 1447.2,274.1 1449.8,271.0 1452.4,267.9 1455.2,264.9 1458.0,261.9 1460.9,259.1 1463.9,256.3 1467.0,253.7 1470.2,251.1 1473.5,248.8 1476.9,246.6 1480.3,244.5 1483.8,242.7 1487.4,241.0 1491.1,239.6 1494.8,238.5 1498.6,237.6 1502.4,236.9 1506.3,236.6 1510.2,236.5 1514.1,236.6 1518.0,237.0 1521.9,237.5 1525.8,238.3 1529.7,239.2 1533.5,240.3 1537.3,241.5 1541.0,242.8 1544.6,244.3 1548.2,245.9 1551.8,247.6 1555.3,249.4 1558.7,251.3 1562.1,253.3 1565.5,255.5 1568.8,257.7 1572.0,260.0 1575.2,262.3 1578.4,264.8 1581.6,267.3 1584.7,269.9 1587.7,272.6 1590.8,275.3 1593.8,278.0 1596.7,280.9 1599.7,283.7 1602.6,286.6 1605.4,289.6 1608.3,292.5 1611.1,295.5 1613.9,298.5 1616.7,301.5 1619.5,304.6 1622.2,307.6 1625.0,310.6 1627.7,313.6 1630.4,316.7 1633.1,319.7 1635.7,322.7 1638.4,325.8 1641.0,328.8 1643.7,331.8 1646.3,334.9 1648.9,337.9 1651.6,340.9 1654.2,343.9 1656.8,346.9 1659.4,349.9 1662.0,352.9 1664.7,355.9 1667.3,358.9 1669.9,361.9 1672.5,364.9 1675.1,367.8 1677.8,370.8 1680.4,373.7 1683.1,376.7 1685.7,379.6 1688.4,382.5 1691.1,385.5 1693.8,388.4 1696.5,391.3 1699.2,394.1 1702.0,397.0 1704.7,399.9 1707.5,402.7 1710.3,405.6 1713.1,408.4 1716.0,411.2 1718.9,414.0 1721.7,416.8 1724.6,419.5 1727.5,422.3 1730.5,425.0 1733.4,427.7 1736.4,430.4 1739.4,433.1 1742.4,435.8 1745.4,438.4 1748.5,441.1 1751.6,443.7 1754.6,446.3 1757.7,448.8 1760.9,451.4 1764.0,453.9 1767.1,456.4 1770.3,458.9 1773.5,461.4 1776.7,463.8 1779.9,466.2 1783.2,468.6 1786.4,471.0 1789.7,473.3 1793.0,475.6 1796.3,477.9 1799.6,480.2 1803.0,482.4 1806.3,484.7 1809.7,486.8 1813.1,489.0 1816.5,491.1 1819.9,493.2 1823.3,495.3 1826.8,497.3 1830.3,499.3 1833.7,501.3 1837.2,503.3 1840.8,505.2 1844.3,507.1 1847.8,508.9 1851.4,510.7 1855.0,512.5 1858.6,514.3 1862.2,516.0 1865.8,517.7 1869.4,519.3 1873.1,520.9 1876.7,522.5 1880.4,524.0 1884.1,525.5 1887.8,527.0 1891.5,528.4 1895.3,529.8 1899.0,531.1 1902.8,532.4 1906.6,533.7 1910.4,534.9 1914.2,536.1 1918.0,537.2 1921.8,538.3 1925.7,539.4 1929.5,540.4 1933.4,541.4 1937.2,542.4 1941.1,543.4 1945.0,544.3 1948.9,545.2 1952.8,546.1 1956.7,547.0 1960.6,547.9 1964.5,548.8 1968.5,549.6 1972.4,550.5 1976.3,551.3 1980.2,552.2 1984.2,553.1 1988.1,554.0 1992.0,554.9 1996.0,555.8 1999.9,556.7 2003.8,557.7 2007.7,558.6 2011.6,559.6 2015.6,560.6 2019.5,561.6 2023.4,562.5 2027.3,563.5 2031.2,564.5 2035.1,565.4 2039.0,566.3 2042.9,567.2 2046.9,568.0 2050.8,568.8 2054.7,569.6 2058.6,570.3 2062.5,571.0 2066.5,571.6 2070.4,572.1 2074.3,572.6 2078.3,573.0 2082.2,573.4 2086.2,573.6 2090.2,573.8 2094.1,573.8 2098.1,573.8 2102.1,573.8 2106.0,573.6 2110.0,573.4 2114.0,573.1 2118.0,572.7 2122.0,572.3 2126.0,571.9 2130.0,571.3 2133.9,570.8 2137.9,570.1 2141.9,569.5 2145.9,568.7 2149.9,568.0 2153.8,567.2 2157.8,566.4 2161.8,565.5 2165.7,564.6 2169.7,563.7 2173.6,562.8 2177.5,561.8 2181.5,560.8 2185.4,559.9 2189.3,558.9 2193.2,557.9 2197.1,556.8 2200.9,555.8 2204.8,554.8 2208.6,553.8 2212.5,552.8 2216.3,551.9 2220.1,550.9 2223.9,549.9 2224.0,554.1 2223.4,558.0 2222.6,561.9 2221.7,565.8 2220.8,569.6 2219.7,573.5 2218.5,577.3 2217.2,581.1 2215.8,584.8 2214.3,588.5 2212.7,592.2 2211.0,595.9 2209.2,599.5 2207.4,603.1 2205.4,606.6 2203.3,610.1 2201.2,613.5 2199.0,616.9 2196.7,620.2 2194.3,623.5 2191.9,626.7 2189.3,629.8 2186.7,632.9 2184.1,635.9 2181.3,638.9 2178.5,641.8 2175.7,644.6 2172.7,647.4 2169.8,650.1 2166.7,652.7 2163.6,655.2 2160.5,657.6 2157.3,660.0 2154.0,662.3 2150.7,664.4 2147.4,666.6 2144.0,668.6 2140.6,670.6 2137.1,672.5 2133.6,674.3 2130.0,676.0 2126.5,677.7 2122.8,679.3 2119.2,680.9 2115.5,682.4 2111.8,683.9 2108.1,685.3 2104.3,686.6 2100.5,687.9 2096.7,689.1 2092.8,690.3 2089.0,691.5 2085.1,692.6 2081.2,693.7 2077.3,694.7 2073.3,695.7 2069.4,696.6 2065.4,697.6 2061.5,698.5 2057.5,699.3 2053.5,700.2 2049.5,701.0 2045.5,701.8 2041.6,702.6 2037.6,703.4 2033.6,704.2 2029.6,704.9 2025.6,705.6 2021.6,706.4 2017.6,707.1 2013.7,707.8 2009.7,708.5 2005.7,709.2 2001.8,709.9 1997.8,710.5 1993.8,711.2 1989.9,711.8 1985.9,712.5 1982.0,713.1 1978.0,713.7 1974.1,714.4 1970.1,715.0 1966.2,715.5 1962.2,716.1 1958.3,716.7 1954.3,717.3 1950.4,717.8 1946.5,718.3 1942.5,718.9 1938.6,719.4 1934.6,719.9 1930.7,720.4 1926.7,720.9 1922.8,721.3 1918.8,721.8 1914.9,722.3 1910.9,722.7 1906.9,723.1 1903.0,723.5 1899.0,724.0 1895.1,724.3 1891.1,724.7 1887.1,725.1 1883.1,725.5 1879.1,725.8 1875.2,726.1 1871.2,726.5 1867.2,726.8 1863.2,727.1 1859.2,727.4 1855.2,727.6 1851.1,727.9 1847.1,728.1 1843.1,728.4 1839.1,728.6 1835.0,728.8 1831.0,729.0 1826.9,729.2 1822.9,729.4 1818.8,729.6 1814.8,729.8 1810.7,730.0 1806.7,730.3 1802.6,730.5 1798.6,730.7 1794.5,730.9 1790.5,731.2 1786.5,731.4 1782.4,731.7 1778.4,732.0 1774.4,732.3 1770.4,732.6 1766.3,733.0 1762.3,733.4 1758.3,733.8 1754.4,734.2 1750.4,734.7 1746.4,735.2 1742.5,735.7 1738.5,736.3 1734.6,736.9 1730.7,737.5 1726.7,738.2 1722.8,738.9 1718.9,739.6 1715.0,740.4 1711.1,741.1 1707.3,741.9 1703.4,742.7 1699.5,743.5 1695.6,744.3 1691.7,745.2 1687.8,746.0 1683.9,746.8 1679.9,747.7 1676.0,748.5 1672.1,749.3 1668.1,750.1 1664.2,750.9 1660.2,751.7 1656.2,752.5 1652.2,753.2 1648.2,753.9 1644.1,754.7 1640.1,755.4 1636.0,756.1 1632.0,756.8 1627.9,757.5 1623.9,758.3 1619.9,759.1 1615.9,759.9 1611.9,760.8 1607.9,761.7 1604.0,762.7 1600.1,763.8 1596.3,764.9 1592.5,766.1 1588.7,767.5 1585.0,768.9 1581.4,770.4 1577.8,772.0 1574.3,773.7 1570.9,775.6 1567.6,777.6 1564.3,779.8 1561.1,782.1 1558.0,784.5 1555.0,787.0 1552.0,789.7 1549.0,792.4 1546.2,795.2 1543.3,798.0 1540.5,800.9 1537.7,803.8 1534.9,806.8 1532.2,809.7 1529.4,812.7 1526.7,815.7 1524.0,818.7 1521.3,821.7 1518.7,824.8 1516.0,827.8 1513.4,830.9 1510.9,834.0 1508.3,837.2 1505.8,840.3 1503.3,843.5 1500.8,846.7 1498.3,849.9 1495.9,853.1 1493.5,856.4 1491.2,859.6 1488.8,862.9 1486.5,866.2 1484.3,869.5 1482.0,872.9 1479.8,876.2 1477.6,879.6 1475.5,883.0 1473.4,886.4 1471.3,889.8 1469.3,893.3 1467.3,896.8 1465.3,900.3 1463.4,903.8 1461.5,907.3 1459.6,910.8 1457.8,914.4 1456.0,918.0 1454.3,921.5 1452.6,925.2 1450.9,928.8 1449.3,932.4 1447.7,936.1 1446.2,939.8 1444.7,943.5 1443.2,947.2 1441.7,950.9 1440.3,954.6 1438.8,958.3 1437.4,962.1 1436.0,965.8 1434.6,969.6 1433.2,973.3 1431.8,977.1 1430.4,980.9 1429.0,984.6 1427.6,988.4 1426.1,992.1 1424.7,995.9 1423.2,999.6 1421.6,1003.4 1420.1,1007.1 1418.5,1010.9 1416.9,1014.6 1415.3,1018.3 1413.7,1022.0 1412.1,1025.8 1410.5,1029.5 1408.9,1033.2 1407.3,1036.9 1405.8,1040.7 1404.2,1044.4 1402.7,1048.1 1401.2,1051.9 1399.7,1055.6 1398.2,1059.3 1396.7,1063.1 1395.3,1066.8 1393.8,1070.5 1392.4,1074.3 1391.0,1078.0 1389.6,1081.8 1388.2,1085.5 1386.9,1089.3 1385.5,1093.0 1384.2,1096.8 1382.8,1100.5 1381.5,1104.3 1380.2,1108.1 1378.9,1111.8 1377.5,1115.6 1376.2,1119.3 1375.0,1123.1 1373.7,1126.9 1372.4,1130.6 1371.1,1134.4 1369.8,1138.2 1368.6,1142.0 1367.3,1145.7 1366.0,1149.5 1364.8,1153.3 1363.5,1157.1 1362.3,1160.8 1361.0,1164.6 1359.7,1168.4 1358.5,1172.2 1357.2,1176.0 1355.9,1179.8 1354.7,1183.6 1353.4,1187.3 1352.1,1191.1 1350.8,1194.9 1349.5,1198.7 1348.2,1202.5 1346.9,1206.3 1345.6,1210.1 1344.3,1213.9 1343.0,1217.7 1341.6,1221.5 1340.3,1225.3 1338.9,1229.1 1337.6,1232.9 1336.2,1236.7 1334.8,1240.5 1333.4,1244.3 1332.0,1248.1 1330.5,1251.9 1329.1,1255.7 1327.6,1259.5 1326.1,1263.3 1324.6,1267.2 1323.1,1271.0 1321.6,1274.7 1320.0,1278.5 1318.4,1282.3 1316.7,1286.0 1315.0,1289.7 1313.3,1293.4 1311.5,1297.1 1309.7,1300.7 1307.8,1304.2 1305.9,1307.7 1303.9,1311.2 1301.8,1314.6 1299.6,1318.0 1297.4,1321.3 1295.1,1324.5 1292.7,1327.7 1290.3,1330.8 1287.7,1333.8 1285.1,1336.7 1282.3,1339.5 1279.5,1342.3 1276.5,1344.9 1273.5,1347.5 1270.3,1349.9 1267.0,1352.2 1263.6,1354.5 1260.1,1356.6 1256.5,1358.6 1252.7,1360.3 1248.9,1361.8 1245.1,1362.9 1241.3,1363.5 1237.5,1363.5 1233.7,1362.8 1230.1,1361.6 1226.5,1359.9 1223.0,1357.9 1219.7,1355.6 1216.4,1353.2 1213.2,1350.7 1210.1,1348.1 1207.1,1345.4 1204.2,1342.6 1201.4,1339.7 1198.7,1336.8 1196.0,1333.8 1193.4,1330.7 1190.9,1327.6 1188.4,1324.5 1186.0,1321.2 1183.6,1318.0 1181.3,1314.7 1179.0,1311.3 1176.8,1308.0 1174.6,1304.6 1172.4,1301.2 1170.2,1297.8 1168.0,1294.3 1165.9,1290.9 1163.7,1287.5 1161.6,1284.0 1159.5,1280.6 1157.4,1277.1 1155.3,1273.7 1153.2,1270.2 1151.1,1266.8 1149.0,1263.3 1146.9,1259.9 1144.8,1256.4 1142.7,1253.0 1140.6,1249.5 1138.5,1246.1 1136.4,1242.6 1134.3,1239.2 1132.2,1235.8 1130.1,1232.4 1128.0,1228.9 1125.8,1225.5 1123.7,1222.1 1121.5,1218.8 1119.4,1215.4 1117.2,1212.0 1115.0,1208.7 1112.7,1205.3 1110.5,1202.0 1108.2,1198.7 1106.0,1195.4 1103.6,1192.2 1101.3,1188.9 1099.0,1185.7 1096.6,1182.4 1094.2,1179.2 1091.8,1176.0 1089.3,1172.9 1086.9,1169.7 1084.4,1166.6 1081.8,1163.5 1079.3,1160.4 1076.7,1157.3 1074.1,1154.3 1071.5,1151.3 1068.9,1148.3 1066.2,1145.3 1063.6,1142.3 1060.9,1139.4 1058.1,1136.4 1055.4,1133.5 1052.6,1130.7 1049.8,1127.8 1047.0,1125.0 1044.2,1122.2 1041.3,1119.4 1038.4,1116.6 1035.5,1113.9 1032.6,1111.2 1029.6,1108.5 1026.6,1105.8 1023.6,1103.2 1020.6,1100.5 1017.6,1098.0 1014.5,1095.4 1011.4,1092.9 1008.3,1090.3 1005.1,1087.9 1002.0,1085.4 998.8,1083.0 995.6,1080.6 992.4,1078.2 989.1,1075.8 985.9,1073.5 982.6,1071.2 979.3,1068.9 975.9,1066.7 972.6,1064.5 969.2,1062.3 965.8,1060.2 962.4,1058.1 958.9,1056.0 955.4,1053.9 952.0,1051.9 948.4,1049.9 944.9,1047.9 941.4,1046.0 937.8,1044.1 934.2,1042.2 930.6,1040.4 926.9,1038.6 923.3,1036.8 919.6,1035.1 915.9,1033.4 912.2,1031.8 908.5,1030.2 904.8,1028.6 901.0,1027.1 897.3,1025.6 893.5,1024.1 889.7,1022.7 885.9,1021.4 882.1,1020.1 878.3,1018.8 874.4,1017.6 870.6,1016.4 866.7,1015.3 862.9,1014.2 859.0,1013.2 855.1,1012.2 851.2,1011.3 847.3,1010.5 843.4,1009.7 839.5,1008.9 835.6,1008.2 831.7,1007.6 827.8,1006.9 823.8,1006.4 819.9,1005.8 816.0,1005.2 812.0,1004.7 808.1,1004.2 804.1,1003.6 800.2,1003.0 796.2,1002.4 792.3,1001.8 788.3,1001.2 784.4,1000.6 780.4,1000.0 776.4,999.3 772.5,998.7 768.5,998.0 764.5,997.3 760.6,996.6 756.6,995.9 752.6,995.2 748.7,994.5 744.7,993.8 740.7,993.0 736.8,992.3 732.8,991.5 728.8,990.8 724.9,990.0 720.9,989.2 717.0,988.5 713.0,987.7 709.1,986.9 705.2,986.1 701.2,985.4 697.3,984.6 693.4,983.8 689.5,983.0 685.5,982.2 681.6,981.5 677.7,980.7 673.8,980.0 669.8,979.3 665.9,978.6 662.0,977.9 658.0,977.3 654.0,976.7 650.1,976.1 646.1,975.5 642.1,975.1 638.0,974.6 634.0,974.2 630.0,973.7 625.9,973.3 621.9,973.0 617.8,972.6 613.8,972.2 609.8,971.7 605.8,971.3 601.8,970.8 597.8,970.3 593.9,969.8 590.0,969.2 586.1,968.6 582.2,967.8 578.4,967.1 574.6,966.2 570.9,965.3 567.2,964.2 563.6,963.1"/>
<use href="#p008000" transform="translate(0,-8.00)"/>
<use href="#p008000" transform="translate(0,-4.00)"/>
<use href="#p008000" transform="translate(0,4.00)"/>
<use href="#p008000" transform="translate(0,8.00)"/>
</g>
<g stroke="#000" stroke-width="11" stroke-linecap="round" fill="none">
<path d="M422.0,65.4 L2365.5,65.4 L2365.5,1537.0 L422.0,1537.0 Z" stroke-linejoin="round"/>
<line x1="422.0" y1="1537.00" x2="407.5" y2="1537.00"/>
<line x1="422.0" y1="1450.44" x2="393.5" y2="1450.44"/>
<line x1="422.0" y1="1363.87" x2="407.5" y2="1363.87"/>
<line x1="422.0" y1="1277.31" x2="393.5" y2="1277.31"/>
<line x1="422.0" y1="1190.74" x2="407.5" y2="1190.74"/>
<line x1="422.0" y1="1104.18" x2="393.5" y2="1104.18"/>
<line x1="422.0" y1="1017.61" x2="407.5" y2="1017.61"/>
<line x1="422.0" y1="931.05" x2="393.5" y2="931.05"/>
<line x1="422.0" y1="844.48" x2="407.5" y2="844.48"/>
<line x1="422.0" y1="757.92" x2="393.5" y2="757.92"/>
<line x1="422.0" y1="671.35" x2="407.5" y2="671.35"/>
<line x1="422.0" y1="584.79" x2="393.5" y2="584.79"/>
<line x1="422.0" y1="498.22" x2="407.5" y2="498.22"/>
<line x1="422.0" y1="411.66" x2="393.5" y2="411.66"/>
<line x1="422.0" y1="325.09" x2="407.5" y2="325.09"/>
<line x1="422.0" y1="238.53" x2="393.5" y2="238.53"/>
<line x1="422.0" y1="151.96" x2="407.5" y2="151.96"/>
<line x1="422.0" y1="65.40" x2="393.5" y2="65.40"/>
<line x1="422.00" y1="1537.0" x2="422.00" y2="1551.5"/>
<line x1="560.82" y1="1537.0" x2="560.82" y2="1565.5"/>
<line x1="699.64" y1="1537.0" x2="699.64" y2="1551.5"/>
<line x1="838.46" y1="1537.0" x2="838.46" y2="1565.5"/>
<line x1="977.29" y1="1537.0" x2="977.29" y2="1551.5"/>
<line x1="1116.11" y1="1537.0" x2="1116.11" y2="1565.5"/>
<line x1="1254.93" y1="1537.0" x2="1254.93" y2="1551.5"/>
<line x1="1393.75" y1="1537.0" x2="1393.75" y2="1565.5"/>
<line x1="1532.57" y1="1537.0" x2="1532.57" y2="1551.5"/>
<line x1="1671.39" y1="1537.0" x2="1671.39" y2="1565.5"/>
<line x1="1810.21" y1="1537.0" x2="1810.21" y2="1551.5"/>
<line x1="1949.04" y1="1537.0" x2="1949.04" y2="1565.5"/>
<line x1="2087.86" y1="1537.0" x2="2087.86" y2="1551.5"/>
<line x1="2226.68" y1="1537.0" x2="2226.68" y2="1565.5"/>
<line x1="2365.50" y1="1537.0" x2="2365.50" y2="1551.5"/>
</g>
<g font-family="'Liberation Serif', 'Times New Roman', serif" font-weight="bold" font-size="76" fill="#000">
<text transform="translate(373.5,1470.4) scale(0.940,1)" text-anchor="end">-800</text>
<text transform="translate(373.5,1297.3) scale(0.940,1)" text-anchor="end">-600</text>
<text transform="translate(373.5,1124.2) scale(0.940,1)" text-anchor="end">-400</text>
<text transform="translate(373.5,951.0) scale(0.940,1)" text-anchor="end">-200</text>
<text transform="translate(373.5,777.9) scale(0.940,1)" text-anchor="end">0</text>
<text transform="translate(373.5,604.8) scale(0.940,1)" text-anchor="end">200</text>
<text transform="translate(373.5,431.7) scale(0.940,1)" text-anchor="end">400</text>
<text transform="translate(373.5,258.5) scale(0.940,1)" text-anchor="end">600</text>
<text transform="translate(373.5,85.4) scale(0.940,1)" text-anchor="end">800</text>
<text transform="translate(560.8,1644.5) scale(0.940,1)" text-anchor="middle">-0.2</text>
<text transform="translate(838.5,1644.5) scale(0.940,1)" text-anchor="middle">0.0</text>
<text transform="translate(1116.1,1644.5) scale(0.940,1)" text-anchor="middle">0.2</text>
<text transform="translate(1393.8,1644.5) scale(0.940,1)" text-anchor="middle">0.4</text>
<text transform="translate(1671.4,1644.5) scale(0.940,1)" text-anchor="middle">0.6</text>
<text transform="translate(1949.0,1644.5) scale(0.940,1)" text-anchor="middle">0.8</text>
<text transform="translate(2226.7,1644.5) scale(0.940,1)" text-anchor="middle">1.0</text>
</g>
<text transform="translate(1075.3,1810) scale(0.972,1)" font-family="'Liberation Serif', 'Times New Roman', serif" font-weight="bold" font-size="120" fill="#000">Potential (V)</text>
<text transform="translate(148.0,1532.0) rotate(-90) scale(1.010,1)" font-family="'Liberation Serif', 'Times New Roman', serif" font-weight="bold" font-size="120" fill="#000">Current density</text>
<text transform="translate(148.0,680.0) rotate(-90) scale(1.000,1)" font-family="'Liberation Serif', 'Times New Roman', serif" font-weight="bold" font-size="76" fill="#000">(</text>
<text transform="translate(148.0,652.0) rotate(-90) scale(1.000,1)" font-family="'Liberation Serif', 'Times New Roman', serif" font-weight="bold" font-size="108" fill="#000">&#956;</text>
<text transform="translate(148.0,590.0) rotate(-90) scale(1.000,1)" font-family="'Liberation Serif', 'Times New Roman', serif" font-weight="bold" font-size="120" fill="#000">A/cm</text>
<text transform="translate(109.0,318.0) rotate(-90) scale(1.000,1)" font-family="'Liberation Serif', 'Times New Roman', serif" font-weight="bold" font-size="120" fill="#000">2</text>
<text transform="translate(148.0,258.0) rotate(-90) scale(1.000,1)" font-family="'Liberation Serif', 'Times New Roman', serif" font-weight="bold" font-size="76" fill="#000">)</text>
<g font-family="'Liberation Sans', Arial, sans-serif" font-weight="bold" font-size="88" fill="#000" text-anchor="middle">
<text x="2267.8" y="836.7">(a)</text>
<text x="1500.2" y="653.5">(b)</text>
<text x="1519.1" y="525.0">(c)</text>
<text x="1531.4" y="374.2">(d)</text>
<text x="1515.8" y="207.0">(e)</text>
</g>
</svg></body></html>
